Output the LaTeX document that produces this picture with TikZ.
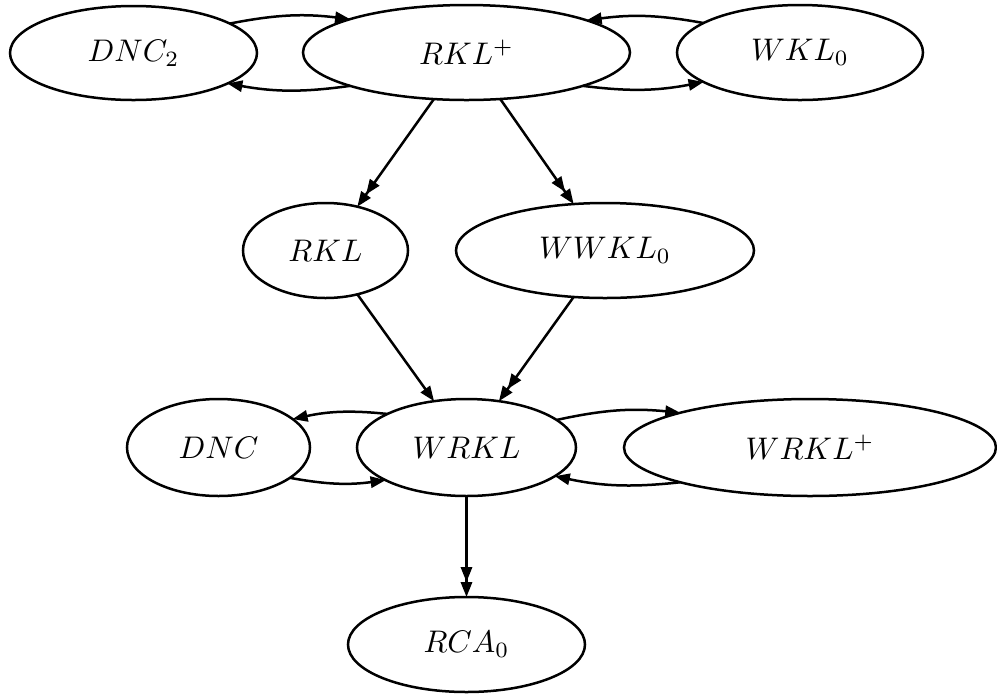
\documentclass[tikz,border=0pt]{standalone}
\usetikzlibrary{arrows.meta,shapes.geometric}
\begin{document}
\begin{tikzpicture}[x=0.32pt,y=-0.32pt,
  el/.style={draw,ellipse,line width=0.8pt,inner sep=0pt,outer sep=0pt},
  ar/.style={line width=0.8pt,-{Triangle[length=4.8pt,width=3.6pt]}},
  arr/.style={line width=0.8pt,-{Triangle[length=4.8pt,width=3.6pt]Triangle[length=4.8pt,width=3.6pt]}}]
\useasboundingbox (0,0) rectangle (997,693);
\node[el,minimum width=247*0.32pt,minimum height=94*0.32pt] (dnc2) at (133.5,53) {$DNC_2$};
\node[el,minimum width=327*0.32pt,minimum height=95*0.32pt] (rklp) at (466.5,52.5) {$RKL^+$};
\node[el,minimum width=246*0.32pt,minimum height=95*0.32pt] (wkl) at (800,52.5) {$WKL_0$};
\node[el,minimum width=165*0.32pt,minimum height=95*0.32pt] (rkl) at (325.5,250.5) {$RKL$};
\node[el,minimum width=298*0.32pt,minimum height=95*0.32pt] (wwkl) at (605,250.5) {$WWKL_0$};
\node[el,minimum width=183*0.32pt,minimum height=97*0.32pt] (dnc) at (218.5,447.5) {$DNC$};
\node[el,minimum width=219*0.32pt,minimum height=97*0.32pt] (wrkl) at (466.5,447.5) {$WRKL$};
\node[el,minimum width=372*0.32pt,minimum height=97*0.32pt] (wrklp) at (810,447.5) {$WRKL^+$};
\node[el,minimum width=237*0.32pt,minimum height=95*0.32pt] (rca) at (466.5,644.5) {$RCA_0$};
% horizontal pairs
\draw[ar] (dnc2.17) to[bend left=9] (rklp.164.8);
\draw[ar] (rklp.196.7) to[bend left=9] (dnc2.342.2);
\draw[ar] (wkl.163.1) to[bend right=9] (rklp.15.9);
\draw[ar] (rklp.-16.2) to[bend right=9] (wkl.197.3);
\draw[ar] (wrkl.157.7) to[bend right=9] (dnc.21.1);
\draw[ar] (dnc.-23.1) to[bend right=9] (wrkl.202.4);
\draw[ar] (wrkl.17.3) to[bend left=9] (wrklp.165.5);
\draw[ar] (wrklp.195.1) to[bend left=9] (wrkl.-18.1);
% vertical
\draw[arr] (rklp.235.7) -- (rkl.54.8);
\draw[arr] (rklp.-54.9) -- (wwkl.124.5);
\draw[ar] (rkl.-54.5) -- (wrkl.125.4);
\draw[arr] (wwkl.236.3) -- (wrkl.55.4);
\draw[arr] (wrkl.south) -- (rca.north);
\end{tikzpicture}
\end{document}
